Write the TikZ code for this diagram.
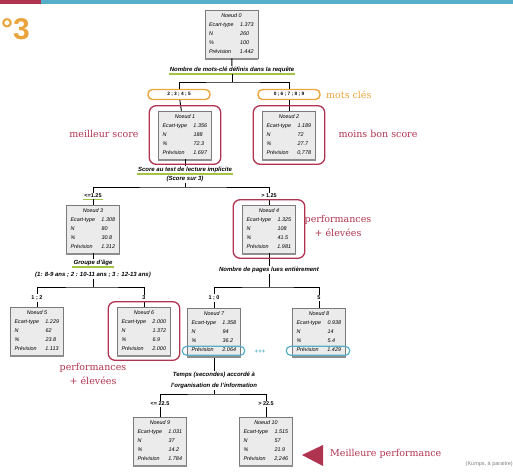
\documentclass[tikz,border=0pt]{standalone}
\usepackage{fontspec}
\setmainfont{Liberation Sans}
\newfontfamily\slabfont{DejaVu Serif}
\usetikzlibrary{fit}

\definecolor{crim}{HTML}{B0344F}
\definecolor{amber}{HTML}{E9A53B}
\definecolor{sky}{HTML}{55AFC9}
\definecolor{leaf}{HTML}{A3C445}
\definecolor{boxfill}{HTML}{EBEBEB}
\definecolor{boxline}{HTML}{7A7A7A}

% One regression-tree node: name, x, y, number, std dev, N, percent, prediction
\newcommand\statbox[8]{%
  \node[statbox] (#1) at (#2,#3) {%
    \begin{tabular}{@{\hspace{3pt}}p{31pt}@{}p{17pt}@{}}
      \multicolumn{2}{c}{Noeud #4}\\
      Ecart-type & #5\\
      N & #6\\
      \% & #7\\
      Prévision & #8
    \end{tabular}};
  \fill[shadowbar] (#1.south west) rectangle ([yshift=-2pt]#1.south east);
}

\begin{document}
\begin{tikzpicture}[x=1pt,y=-1pt,
  wire/.style={draw=black, line width=0.9pt},
  statbox/.style={draw=boxline, fill=boxfill, line width=0.6pt,
    minimum width=53pt, minimum height=48pt, inner sep=0pt,
    font=\fontsize{5.4}{9}\selectfont\itshape},
  shadowbar/.style={fill=boxline!85},
  question/.style={font=\fontsize{6}{7}\selectfont\bfseries\itshape, inner sep=1pt},
  cut/.style={font=\fontsize{5.5}{6}\selectfont\bfseries, inner sep=1pt},
  keybox/.style={draw=amber, line width=1.4pt, rounded corners=4.5pt, fill=white,
    minimum width=62pt, minimum height=10pt, inner sep=0pt,
    font=\fontsize{4.8}{5}\selectfont\bfseries},
  redframe/.style={draw=crim, line width=1.3pt, rounded corners=7pt,
    inner xsep=9pt, inner ysep=5pt},
  blueframe/.style={draw=sky, line width=1.2pt, rounded corners=4.5pt},
  note/.style={text=crim, font=\slabfont\fontsize{9.5}{14}\selectfont, align=center, inner sep=0pt},
  underline/.style={draw=leaf, line width=1.3pt},
]
\useasboundingbox (0,0) rectangle (513,471);

% header bar and slide number
\fill[crim] (0,0) rectangle (41,4);
\fill[sky] (41,0) rectangle (513,4);
\node[anchor=west, inner sep=0pt, text=amber, font=\fontsize{30}{30}\selectfont\bfseries] (num) at (1,29) {°3};

% tree nodes
\statbox{n0}{231.5}{34}{0}{1.373}{260}{100}{1.442}
\statbox{n1}{185}{135}{1}{1.356}{188}{72.3}{1.697}
\statbox{n2}{289}{135}{2}{1.189}{72}{27.7}{0,778}
\statbox{n3}{93}{229}{3}{1.308}{80}{30.8}{1.312}
\statbox{n4}{269}{229}{4}{1.325}{108}{41.5}{1.981}
\statbox{n5}{37}{331}{5}{1.229}{62}{23.8}{1.113}
\statbox{n6}{144}{331}{6}{2.000}{1.372}{6.9}{2.000}
\statbox{n7}{214}{332}{7}{1.358}{94}{36.2}{2.064}
\statbox{n8}{319}{332}{8}{0.938}{14}{5.4}{1.429}
\statbox{n9}{160}{441}{9}{1.031}{37}{14.2}{1.784}
\statbox{n10}{266}{441}{10}{1.515}{57}{21.9}{2,246}

% split questions
\node[question] (q0) at (232,70) {Nombre de mots-clé définis dans la requête};
\draw[underline] (q0.south west) -- (q0.south east);
\node[question] (q1) at (185,170) {Score au test de lecture implicite};
\draw[underline] (q1.south west) -- (q1.south east);
\node[question] (q1b) at (185,179) {(Score sur 3)};
\node[question] (q3) at (93,263) {Groupe d'âge};
\draw[underline] (q3.south west) -- (q3.south east);
\node[question] (q3b) at (93,275) {(1: 8-9 ans ; 2 : 10-11 ans ; 3 : 12-13 ans)};
\node[question] (q4) at (269,270) {Nombre de pages lues entièrement};
\node[question] (q7) at (214,375) {Temps (secondes) accordé à};
\node[question] (q7b) at (214,386) {l'organisation de l'information};

% branch values
\node[keybox] (k1) at (179,94.5) {2 ; 3 ; 4 ; 5};
\node[keybox] (k2) at (289,94.5) {0 ; 6 ; 7 ; 8 ; 9};
\node[cut] (b3) at (93,196) {<=1.25};
\draw[underline] (b3.south west) -- (b3.south east);
\node[cut] (b4) at (269,196) {> 1.25};
\node[cut] (b5) at (37,298) {1 ; 2};
\node[cut] (b6) at (144,298) {3};
\node[cut] (b7) at (214,298) {1 ; 0};
\node[cut] (b8) at (319,298) {5};
\node[cut] (b9) at (160,404) {<= 22.5};
\node[cut] (b10) at (266,404) {> 22.5};

% junctions
\coordinate (j0) at (232,82);
\coordinate (j1) at (185,187);
\coordinate (j3) at (93,287);
\coordinate (j4) at (269,287);
\coordinate (j7) at (214,394);

% connectors
\draw[wire] (n0) -- (q0);
\draw[wire] (q0) -- (j0);
\draw[wire] (k1) |- (j0) -| (k2);
\draw[wire] (k1) -- (n1);
\draw[wire] (k2) -- (n2);
\draw[wire] (n1) -- (q1);
\draw[wire] (q1b) -- (j1);
\draw[wire] (b3) |- (j1) -| (b4);
\draw[wire] (b3) -- (n3);
\draw[wire] (b4) -- (n4);
\draw[wire] (n3) -- (q3);
\draw[wire] (q3b) -- (j3);
\draw[wire] (b5) |- (j3) -| (b6);
\draw[wire] (b5) -- (n5);
\draw[wire] (b6) -- (n6);
\draw[wire] (n4) -- (q4);
\draw[wire] (q4) -- (j4);
\draw[wire] (b7) |- (j4) -| (b8);
\draw[wire] (b7) -- (n7);
\draw[wire] (b8) -- (n8);
\draw[wire] ([yshift=-2pt]n7.south) -- (q7);
\draw[wire] (q7b) -- (j7);
\draw[wire] (b9) |- (j7) -| (b10);
\draw[wire] (b9) -- (n9);
\draw[wire] (b10) -- (n10);

% highlights
\node[redframe, fit=(n1)] (f1) {};
\node[redframe, fit=(n2)] (f2) {};
\node[redframe, fit=(n4)] (f4) {};
\node[redframe, fit=(n6)] (f6) {};
\draw[blueframe] ([xshift=-5pt,yshift=1pt]n7.south west) rectangle ([xshift=4pt,yshift=10pt]n7.east |- n7.south);
\draw[blueframe] ([xshift=-6pt,yshift=1pt]n8.south west) rectangle ([xshift=4pt,yshift=10pt]n8.east |- n8.south);
\node[text=sky, font=\fontsize{6}{6}\selectfont\bfseries, inner sep=0pt] (plus) at (260,352) {+++};

% annotations
\node[text=amber, font=\slabfont\fontsize{9.5}{12}\selectfont, anchor=west, inner sep=0pt] (motscles) at (326,95) {mots clés};
\node[note] (best) at (104,134) {meilleur score};
\node[note] (worse) at (378,134) {moins bon score};
\node[note] (perf4) at (338,226) {performances\\+ élevées};
\node[note] (perf6) at (93,374) {performances\\+ élevées};
\fill[crim] (302,455) -- (323,445) -- (323,466) -- cycle;
\node[note, anchor=west] (bestperf) at (330,454) {Meilleure performance};
\node[text=gray, font=\fontsize{5.5}{6}\selectfont, anchor=east, inner sep=0pt] (src) at (513,464) {(Kumps, à paraitre)};
\end{tikzpicture}
\end{document}
